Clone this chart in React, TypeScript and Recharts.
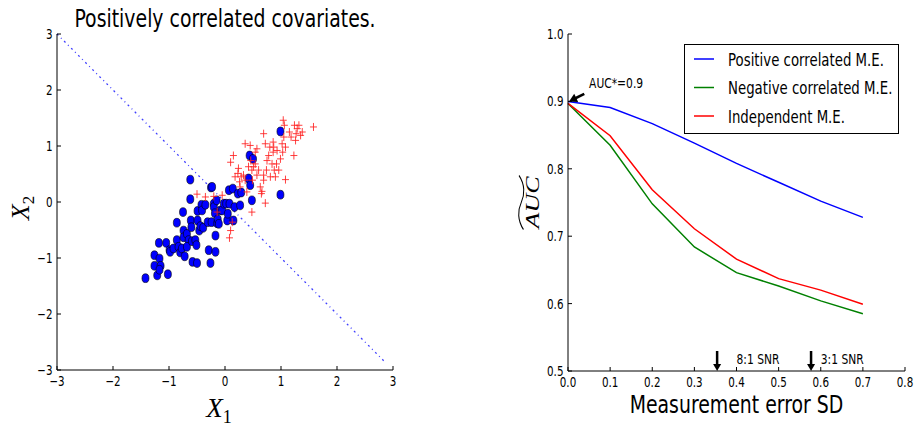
import React from "react"
import {
  ScatterChart, Scatter, LineChart, Line, XAxis, YAxis, ReferenceLine, ReferenceDot, Legend, Label,
} from "recharts"

// left panel: two classes of points
const circleX = [-1.42, -1.26, -1.26, -1.21, -1.17, -1.15, -1.17, -1.02, -1.18, -1.05, -0.99, -0.98, -0.92, -0.86, -0.86, -0.83, -0.8, -0.77, -0.75, -0.74, -0.74, -0.72, -0.68, -0.65, -0.68, -0.62, -0.62, -0.61, -0.6, -0.59, -0.58, -0.53, -0.51, -0.5, -0.49, -0.49, -0.46, -0.44, -0.42, -0.41, -0.39, -0.35, -0.31, -0.29, -0.26, -0.25, -0.24, -0.23, -0.2, -0.2, -0.18, -0.17, -0.17, -0.15, -0.14, -0.13, -0.11, -0.08, -0.05, -0.02, 0.02, 0.04, 0.05, 0.07, 0.08, 0.14, 0.15, 0.17, 0.23, 0.27, 0.29, 0.42, 0.44, 0.45, 0.48, 0.5, 0.99, 0.99]
const circleY = [-1.36, -0.95, -1.14, -1.31, -1.01, -1.14, -1.21, -1.29, -0.73, -0.73, -0.86, -0.89, -0.83, -0.37, -0.68, -0.8, -0.9, -0.83, -0.18, -0.51, -0.63, -0.97, -0.57, -0.68, -0.8, 0.4, 0.05, -0.33, -0.45, -0.7, -1.07, -0.68, -0.77, -1.09, -0.16, -0.33, -0.51, -0.43, -0.05, -0.15, -0.46, -0.05, -0.36, -0.86, -1.09, 0.26, -0.36, 0.27, -0.03, -0.09, -0.2, -0.6, -0.89, 0.03, -0.38, -0.31, -0.39, -0.15, -0.15, -0.03, -0.03, -0.33, -0.21, 0.21, -0.03, 0.24, -0.33, -0.09, 0.15, -0.06, 0.17, 0.42, 0.83, 0.3, 0.03, 0.77, 1.26, 0.13]
const crossX = [-0.5, -0.35, -0.2, -0.05, -0.14, 0.1, 0.08, 0.13, 0.1, 0.15, 0.18, 0.23, 0.24, 0.26, 0.27, 0.29, 0.33, 0.36, 0.39, 0.42, 0.45, 0.46, 0.48, 0.49, 0.51, 0.48, 0.54, 0.57, 0.6, 0.63, 0.65, 0.66, 0.69, 0.72, 0.69, 0.74, 0.75, 0.78, 0.81, 0.84, 0.86, 0.87, 0.88, 0.9, 0.92, 0.93, 0.96, 0.99, 1.02, 1.03, 1.05, 1.04, 1.06, 1.08, 1.15, 1.18, 1.23, 1.24, 1.26, 1.27, 1.29, 1.32, 1.35, 1.38, 1.08, 0.36, 0.57, 0.69, 0.72, 0.86, 1.58, 0.8, 0.54]
const crossY = [0.14, 0.09, 0.1, 0.12, -0.18, -0.51, -0.64, -0.36, 0.71, 0.83, 0.45, 0.51, 0.6, 0.36, 0.27, 0.45, 0.48, 0.39, 0.18, 0.63, 1.01, 0.74, 0.57, 0.39, 0.63, -0.18, 0.68, 0.48, 0.57, 0.27, 0.15, 0.19, 0.48, -0.02, 0.39, 0.57, 0.74, 0.83, 0.45, 0.68, 0.89, 0.98, 0.57, 0.45, 0.68, 0.92, 0.57, 0.77, 1.04, 0.89, 1.16, 1.46, 1.37, 0.98, 1.25, 1.16, 0.83, 1.37, 1.1, 1.22, 1.31, 1.37, 1.19, 1.25, 0.4, 1.04, 0.95, 1.22, 1.04, 1.07, 1.34, 0.98, 0.89]
const diagonal = [{ x: -3, y: 3 }, { x: 2.87, y: -2.87 }]
const scatterTicks = [-3, -2, -1, 0, 1, 2, 3]

// right panel: AUC vs measurement error SD
const errorSD = [0, 0.1, 0.2, 0.3, 0.4, 0.5, 0.6, 0.7]
const positiveAuc = [0.9, 0.891, 0.867, 0.838, 0.808, 0.78, 0.752, 0.728]
const negativeAuc = [0.897, 0.835, 0.748, 0.684, 0.646, 0.626, 0.604, 0.585]
const independentAuc = [0.897, 0.849, 0.769, 0.711, 0.666, 0.637, 0.62, 0.599]
const seriesNames = ["Positive correlated M.E.", "Negative correlated M.E.", "Independent M.E."]
const sdTicks = [0, 0.1, 0.2, 0.3, 0.4, 0.5, 0.6, 0.7, 0.8]
const aucTicks = [0.5, 0.6, 0.7, 0.8, 0.9, 1.0]
const snrArrows = [0.354, 0.577]
const snrLabels = [{ x: 0.4, y: 0.51, text: "8:1 SNR" }, { x: 0.6, y: 0.51, text: "3:1 SNR" }]
const aucStar = { x: 0, y: 0.9, tx: 0.05, ty: 0.92, text: "AUC*=0.9" }

const circles = circleX.map((x, i) => ({ x, y: circleY[i] }))
const crosses = crossX.map((x, i) => ({ x, y: crossY[i] }))
const lineRows = errorSD.map((x, i) => ({
  x, pos: positiveAuc[i], neg: negativeAuc[i], ind: independentAuc[i],
}))

const SANS = "DejaVu Sans, sans-serif"
const SERIF = "Liberation Serif, DejaVu Serif, serif"
const SQ = 0.74 // the original is squeezed horizontally

const minus = (s: string) => s.replace("-", "\u2212")

function makeTick(side: string, fmt?: (v: number) => string) {
  return (props: any) => {
    const { x, y, payload } = props
    const t = 4
    let line
    let label = null
    if (side === "bottom") {
      line = <line x1={x} y1={y} x2={x} y2={y - t} stroke="#000" />
      if (fmt) label = (
        <text transform={`translate(${x},${y + 16}) scale(${SQ},1)`} textAnchor="middle" fontSize={14} fontFamily={SANS} fill="#000">
          {fmt(payload.value)}
        </text>
      )
    } else if (side === "top") {
      line = <line x1={x} y1={y} x2={x} y2={y + t} stroke="#000" />
    } else if (side === "left") {
      line = <line x1={x} y1={y} x2={x + t} y2={y} stroke="#000" />
      if (fmt) label = (
        <text transform={`translate(${x - 4.5},${y + 5}) scale(${SQ},1)`} textAnchor="end" fontSize={14} fontFamily={SANS} fill="#000">
          {fmt(payload.value)}
        </text>
      )
    } else {
      line = <line x1={x} y1={y} x2={x - t} y2={y} stroke="#000" />
    }
    return <g>{line}{label}</g>
  }
}

const intFmt = (v: number) => minus(String(v))
const oneDec = (v: number) => v.toFixed(1)

const Circle = (p: any) => (
  <ellipse cx={p.cx} cy={p.cy} rx={3.5} ry={4.4} fill="#0000ff" stroke="#000" strokeWidth={0.6} />
)
const Plus = (p: any) => (
  <g stroke="#ff2020" strokeWidth={1} strokeOpacity={0.85}>
    <line x1={p.cx - 3.5} y1={p.cy} x2={p.cx + 3.5} y2={p.cy} />
    <line x1={p.cx} y1={p.cy - 4} x2={p.cx} y2={p.cy + 4} />
  </g>
)

const axisLine = { stroke: "#000", strokeWidth: 1 }

function LeftPanel() {
  return (
    <ScatterChart width={400} height={426} margin={{ top: 34, right: 7, bottom: 0, left: 17 }}>
      <text transform={`translate(225,27) scale(${SQ},1)`} textAnchor="middle" fontSize={25.5} fontFamily={SANS} fill="#000">
        Positively correlated covariates.
      </text>
      <XAxis xAxisId="b" type="number" dataKey="x" domain={[-3, 3]} ticks={scatterTicks} interval={0}
        height={56} tickSize={0} tickMargin={0} axisLine={axisLine} tickLine={false} tick={makeTick("bottom", intFmt)}>
        <Label content={(p: any) => {
          const vb = p.viewBox
          return (
            <text x={vb.x + vb.width / 2 - 6} y={vb.y + 47} fontSize={27} fontFamily={SERIF} fontStyle="italic" fill="#000" textAnchor="middle">
              X<tspan fontSize={18} fontStyle="normal" dy={6}>1</tspan>
            </text>
          )
        }} />
      </XAxis>
      <XAxis xAxisId="t" orientation="top" type="number" dataKey="x" domain={[-3, 3]} ticks={scatterTicks} interval={0}
        height={0} tickSize={0} tickMargin={0} axisLine={axisLine} tickLine={false} tick={makeTick("top")} />
      <YAxis yAxisId="l" type="number" dataKey="y" domain={[-3, 3]} ticks={scatterTicks} interval={0}
        width={40} tickSize={0} tickMargin={0} axisLine={axisLine} tickLine={false} tick={makeTick("left", intFmt)}>
        <Label content={(p: any) => {
          const vb = p.viewBox
          const cy = vb.y + vb.height / 2
          return (
            <text transform={`translate(${29},${cy + 6}) rotate(-90)`} fontSize={26} fontFamily={SERIF} fontStyle="italic" fill="#000" textAnchor="middle">
              X<tspan fontSize={17} fontStyle="normal" dy={5}>2</tspan>
            </text>
          )
        }} />
      </YAxis>
      <YAxis yAxisId="r" orientation="right" type="number" dataKey="y" domain={[-3, 3]} ticks={scatterTicks} interval={0}
        width={0} tickSize={0} tickMargin={0} axisLine={axisLine} tickLine={false} tick={makeTick("right")} />
      <ReferenceLine xAxisId="b" yAxisId="l" segment={diagonal} stroke="#0000ff" strokeWidth={1.3}
        strokeDasharray="2 3.5 1 3.5" strokeOpacity={0.75} />
      <Scatter xAxisId="b" yAxisId="l" data={circles} shape={Circle} isAnimationActive={false} />
      <Scatter xAxisId="b" yAxisId="l" data={crosses} shape={Plus} isAnimationActive={false} />
    </ScatterChart>
  )
}

const renderLegend = (props: any) => {
  const items = [...(props.payload || [])].sort(
    (a: any, b: any) => seriesNames.indexOf(a.value) - seriesNames.indexOf(b.value),
  )
  return (
    <svg width={216} height={91}>
      <rect x={0.5} y={0.5} width={214} height={89} fill="#fff" stroke="#000" strokeWidth={1} />
      {items.map((it: any, i: number) => {
        const y = 15 + i * 28.5
        return (
          <g key={i}>
            <line x1={10} y1={y} x2={30} y2={y} stroke={it.color} strokeWidth={1.5} />
            <text transform={`translate(44,${y + 6.5}) scale(${SQ},1)`} fontSize={18} fontFamily={SANS} fill="#000">
              {it.value}
            </text>
          </g>
        )
      })}
    </svg>
  )
}

const DownArrow = (p: any) => (
  <g>
    <line x1={p.cx} y1={p.cy - 20} x2={p.cx} y2={p.cy - 6} stroke="#000" strokeWidth={2.5} />
    <polygon points={`${p.cx - 4},${p.cy - 7} ${p.cx + 4},${p.cy - 7} ${p.cx},${p.cy}`} fill="#000" />
  </g>
)

const StarArrow = (p: any) => (
  <g transform={`translate(${p.cx + 1},${p.cy}) rotate(-26)`}>
    <line x1={6} y1={0} x2={17} y2={0} stroke="#000" strokeWidth={2.6} />
    <polygon points="0,0 8,-4.5 8,4.5" fill="#000" />
  </g>
)

const textShape = (text: string) => (p: any) => (
  <text transform={`translate(${p.cx},${p.cy}) scale(${SQ},1)`} fontSize={14.5} fontFamily={SANS} fill="#000">
    {text}
  </text>
)

function RightPanel() {
  return (
    <LineChart width={415} height={426} data={lineRows} margin={{ top: 34, right: 10, bottom: 0, left: 28 }}>
      <XAxis xAxisId="b" type="number" dataKey="x" domain={[0, 0.8]} ticks={sdTicks} interval={0}
        height={55} tickSize={0} tickMargin={0} axisLine={axisLine} tickLine={false} tick={makeTick("bottom", oneDec)}>
        <Label content={(p: any) => {
          const vb = p.viewBox
          return (
            <text transform={`translate(${vb.x + vb.width / 2},${vb.y + 42}) scale(${SQ},1)`} fontSize={25.5} fontFamily={SANS} fill="#000" textAnchor="middle">
              Measurement error SD
            </text>
          )
        }} />
      </XAxis>
      <XAxis xAxisId="t" orientation="top" type="number" dataKey="x" domain={[0, 0.8]} ticks={sdTicks} interval={0}
        height={0} tickSize={0} tickMargin={0} axisLine={axisLine} tickLine={false} tick={makeTick("top")} />
      <YAxis yAxisId="l" type="number" domain={[0.5, 1.0]} ticks={aucTicks} interval={0}
        width={40} tickSize={0} tickMargin={0} axisLine={axisLine} tickLine={false} tick={makeTick("left", oneDec)}>
        <Label content={(p: any) => {
          const vb = p.viewBox
          const cy = vb.y + vb.height / 2
          return (
            <g transform={`translate(${39},${cy}) scale(${SQ},1) rotate(-90)`}>
              <text x={0} y={0} fontSize={25} fontFamily={SERIF} fontStyle="italic" fill="#000" textAnchor="middle" textLength={52} lengthAdjust="spacingAndGlyphs">
                AUC
              </text>
              <path d="M -27 -21 C -18 -29, -8 -29, 0 -24 S 18 -19, 27 -27" fill="none" stroke="#000" strokeWidth={1.4} />
            </g>
          )
        }} />
      </YAxis>
      <YAxis yAxisId="r" orientation="right" type="number" domain={[0.5, 1.0]} ticks={aucTicks} interval={0}
        width={0} tickSize={0} tickMargin={0} axisLine={axisLine} tickLine={false} tick={makeTick("right")} />
      <Legend layout="vertical" verticalAlign="middle" align="center" content={renderLegend}
        wrapperStyle={{ position: "absolute", left: 184, top: 44, width: 216, height: 91 }} />
      <Line xAxisId="b" yAxisId="l" dataKey="pos" name={seriesNames[0]} stroke="#0000ff" strokeWidth={1.5} dot={false} isAnimationActive={false} />
      <Line xAxisId="b" yAxisId="l" dataKey="neg" name={seriesNames[1]} stroke="#008000" strokeWidth={1.5} dot={false} isAnimationActive={false} />
      <Line xAxisId="b" yAxisId="l" dataKey="ind" name={seriesNames[2]} stroke="#ff0000" strokeWidth={1.5} dot={false} isAnimationActive={false} />
      {snrArrows.map((x) => (
        <ReferenceDot key={x} xAxisId="b" yAxisId="l" x={x} y={0.5} r={0} shape={DownArrow} />
      ))}
      {snrLabels.map((s) => (
        <ReferenceDot key={s.text} xAxisId="b" yAxisId="l" x={s.x} y={s.y} r={0} shape={textShape(s.text)} />
      ))}
      <ReferenceDot xAxisId="b" yAxisId="l" x={aucStar.x} y={aucStar.y} r={0} shape={StarArrow} />
      <ReferenceDot xAxisId="b" yAxisId="l" x={aucStar.tx} y={aucStar.ty} r={0} shape={textShape(aucStar.text)} />
    </LineChart>
  )
}

export default function App() {
  return (
    <div style={{ position: "absolute", left: 0, top: 0, width: 915, height: 426, background: "#fff", overflow: "hidden" }}>
      <div style={{ position: "absolute", left: 0, top: 0 }}>
        <LeftPanel />
      </div>
      <div style={{ position: "absolute", left: 500, top: 0 }}>
        <RightPanel />
      </div>
    </div>
  )
}
